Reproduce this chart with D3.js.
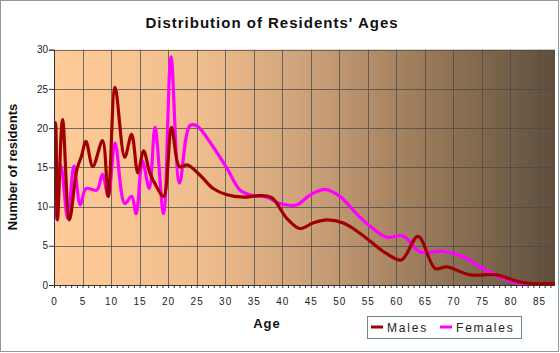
<!DOCTYPE html>
<html>
<head>
<meta charset="utf-8">
<script src="https://cdn.jsdelivr.net/npm/d3@7"></script>
<style>
    body { margin: 0; background: #fff; }
    svg { display: block; }
</style>
</head>
<body>
<div id="age_chart"></div>
<script>
// ages and counts (spline key points)
var maleAges = [0, 0.25, 0.6, 1.5, 2.7, 4, 4.8, 5.6, 6.8, 8.5, 9.5, 10.7, 12.4, 13.6, 14.7, 15.7, 16.8, 18, 19.2, 20.6, 22, 23.4, 25.6, 27.9, 30.3, 33.2, 36.1, 38.2, 40.8, 43.1, 45.4, 47.8, 50.7, 53.6, 57.1, 58.3, 60.9, 63.8, 66.8, 68.8, 72.9, 77.6, 81, 83.4, 87.8];
var males = [19.5, 20.7, 8.3, 21.1, 8.3, 14.7, 16.4, 18.3, 15.1, 18.4, 11.3, 25.2, 16.3, 19.2, 14.3, 17.1, 14.3, 12.5, 11.3, 20.1, 15.1, 15.3, 14.0, 12.3, 11.5, 11.2, 11.4, 11.1, 8.5, 7.2, 7.9, 8.3, 7.9, 6.6, 4.6, 4.0, 3.2, 6.2, 2.1, 2.3, 1.3, 1.3, 0.5, 0.2, 0.2];

var femaleAges = [0, 1.2, 2.4, 3.5, 4.6, 5.6, 7.5, 8.5, 9.5, 10.7, 12.4, 13.6, 14.4, 15.5, 16.7, 17.7, 19.2, 20.5, 22, 23.8, 25, 27.9, 30.3, 32.6, 34.3, 37.3, 39.6, 42.5, 44.9, 47.5, 50.1, 53, 55.4, 58.3, 61.2, 64.1, 68.2, 71.7, 75.2, 78.7, 81.7, 87.8];
var females = [8.3, 15.2, 8.5, 15.2, 10.2, 12.3, 12.1, 14.1, 11.3, 18.1, 10.4, 11.3, 9.1, 15.8, 12.3, 20.1, 9.1, 29.1, 13.0, 20.3, 20.3, 17.6, 14.9, 12.1, 11.5, 11.2, 10.4, 10.2, 11.5, 12.2, 11.3, 9.1, 7.5, 6.1, 6.25, 4.25, 4.3, 3.6, 2.1, 0.85, 0.2, 0.2];

var xTicks = d3.range(0, 90, 5);
var yTicks = [0, 5, 10, 15, 20, 25, 30];
var seriesNames = ['Males', 'Females'];
var seriesColours = ['#a00000', '#ff00ff'];

(function(){
    var width = 560;
    var height = 353;

    var plot = { left: 54, right: 555, top: 49.7, bottom: 285 };

    var svg = d3.select("#age_chart")
        .append("svg")
            .attr("width", width)
            .attr("height", height)
            .style("font-family", '"Liberation Sans", Arial, Helvetica, sans-serif');

    // outer frame
    svg.append('rect')
        .attr('x', 0.5)
        .attr('y', 0.5)
        .attr('width', width - 2)
        .attr('height', height - 2)
        .attr('fill', '#fff')
        .attr('stroke', '#8a9a9a');

    var xScale = d3.scaleLinear()
        .domain([0, 87.8])
        .range([plot.left, plot.right]);

    var yScale = d3.scaleLinear()
        .domain([0, 30])
        .range([plot.bottom, plot.top]);

    // background gradient
    var grad = svg.append('defs')
        .append('linearGradient')
        .attr('id', 'bg')
        .attr('x1', '0%').attr('x2', '100%')
        .attr('y1', '0%').attr('y2', '0%');
    [[0, '#ffcc99'], [0.3, '#efbd8c'], [0.5, '#cda27a'], [0.7, '#a3815f'], [1, '#5f4f3d']].forEach(function(s){
        grad.append('stop')
            .attr('offset', s[0])
            .attr('stop-color', s[1]);
    });

    svg.append('rect')
        .attr('x', plot.left)
        .attr('y', plot.top)
        .attr('width', plot.right - plot.left)
        .attr('height', plot.bottom - plot.top)
        .attr('fill', 'url(#bg)');

    // grid
    svg.selectAll('.vgrid')
        .data(xTicks.filter(function(d){ return d > 0; }))
        .enter()
        .append('line')
        .attr('class', 'vgrid')
        .attr('x1', function(d){ return Math.round(xScale(d)) + 0.5; })
        .attr('x2', function(d){ return Math.round(xScale(d)) + 0.5; })
        .attr('y1', plot.top)
        .attr('y2', plot.bottom)
        .attr('stroke', '#4a4a4a')
        .attr('stroke-opacity', 0.75);

    svg.selectAll('.hgrid')
        .data(yTicks.filter(function(d){ return d > 0; }))
        .enter()
        .append('line')
        .attr('class', 'hgrid')
        .attr('x1', plot.left)
        .attr('x2', plot.right)
        .attr('y1', function(d){ return Math.round(yScale(d)) + 0.5; })
        .attr('y2', function(d){ return Math.round(yScale(d)) + 0.5; })
        .attr('stroke', '#4a4a4a')
        .attr('stroke-opacity', 0.75);

    // lines
    var line = d3.line()
        .x(function(d){ return xScale(d[0]); })
        .y(function(d){ return yScale(d[1]); })
        .curve(d3.curveCatmullRom.alpha(0.5));

    var series = [d3.zip(maleAges, males), d3.zip(femaleAges, females)];

    svg.append('defs')
        .append('clipPath')
        .attr('id', 'clip')
        .append('rect')
        .attr('x', plot.left)
        .attr('y', plot.top - 5)
        .attr('width', plot.right - plot.left)
        .attr('height', plot.bottom - plot.top + 5);

    // females drawn first, males on top
    [1, 0].forEach(function(i){
        svg.append('path')
            .datum(series[i])
            .attr('clip-path', 'url(#clip)')
            .attr('d', line)
            .attr('fill', 'none')
            .attr('stroke', seriesColours[i])
            .attr('stroke-width', 3.2)
            .attr('stroke-linejoin', 'round');
    });

    // axes
    var xAxis = d3.axisBottom(xScale)
        .tickValues(d3.range(0, 88, 1))
        .tickSize(3)
        .tickFormat('');

    svg.append('g')
        .attr('class', 'x axis')
        .attr('transform', 'translate(0,' + plot.bottom + ')')
        .call(xAxis)
        .call(function(g){
            g.select('.domain').attr('stroke', '#333').attr('d', 'M' + plot.left + ',0.5H' + plot.right);
            g.selectAll('.tick line').attr('stroke', '#333');
        });

    svg.selectAll('.xlabel')
        .data(xTicks)
        .enter()
        .append('text')
        .attr('class', 'xlabel')
        .attr('x', function(d){ return xScale(d) + 0.5; })
        .attr('y', 305)
        .attr('text-anchor', 'middle')
        .attr('font-size', '10px')
        .attr('letter-spacing', '1px')
        .attr('fill', '#222')
        .text(function(d){ return d; });

    var yAxis = d3.axisLeft(yScale)
        .tickValues(yTicks)
        .tickSize(5)
        .tickPadding(1);

    svg.append('g')
        .attr('class', 'y axis')
        .attr('transform', 'translate(' + plot.left + ',0)')
        .call(yAxis)
        .call(function(g){
            g.select('.domain').attr('stroke', '#333');
            g.selectAll('.tick line').attr('stroke', '#333');
            g.selectAll('.tick text')
                .attr('font-size', '10px')
                .attr('fill', '#222')
                .attr('font-family', '"Liberation Sans", Arial, sans-serif');
        });

    // titles
    svg.append('text')
        .attr('x', 272)
        .attr('y', 28)
        .attr('text-anchor', 'middle')
        .attr('font-size', '15px')
        .attr('font-weight', 'bold')
        .attr('letter-spacing', '1px')
        .attr('fill', '#111')
        .text("Distribution of Residents' Ages");

    svg.append('text')
        .attr('transform', 'translate(17,167) rotate(-90)')
        .attr('text-anchor', 'middle')
        .attr('font-size', '13px')
        .attr('font-weight', 'bold')
        .attr('fill', '#111')
        .text('Number of residents');

    svg.append('text')
        .attr('x', 267)
        .attr('y', 328)
        .attr('text-anchor', 'middle')
        .attr('font-size', '13px')
        .attr('font-weight', 'bold')
        .attr('letter-spacing', '1px')
        .attr('fill', '#111')
        .text('Age');

    // legend
    var legend = svg.append('g')
        .attr('class', 'legend');

    legend.append('rect')
        .attr('x', 367.5)
        .attr('y', 316.5)
        .attr('width', 154)
        .attr('height', 22)
        .attr('fill', 'none')
        .attr('stroke', '#6f8a8a');

    var legendX = [371, 440];
    seriesNames.forEach(function(name, i){
        legend.append('line')
            .attr('x1', legendX[i])
            .attr('x2', legendX[i] + 12)
            .attr('y1', 327)
            .attr('y2', 327)
            .attr('stroke', seriesColours[i])
            .attr('stroke-width', 3);
        legend.append('text')
            .attr('x', legendX[i] + 16)
            .attr('y', 332)
            .attr('font-size', '12px')
            .attr('letter-spacing', '1.8px')
            .attr('fill', '#222')
            .text(name);
    });
})();
</script>
</body>
</html>
